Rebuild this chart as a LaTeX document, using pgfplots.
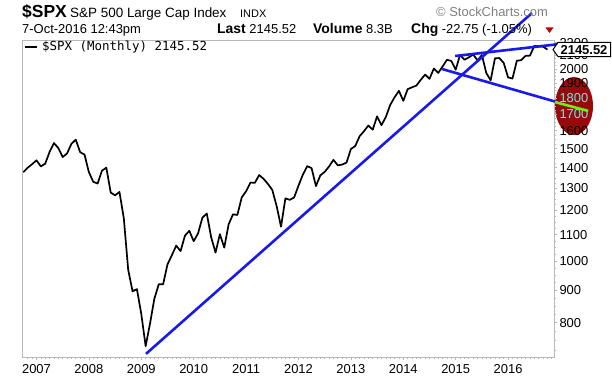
\documentclass[border=0pt]{standalone}
\usepackage{fontspec}
\setmainfont{Liberation Sans}
\newfontfamily\legfont{DejaVu Sans Mono}
\usepackage{pgfplots}
\usepackage{pgfplotstable}
\pgfplotsset{compat=1.18}
\usetikzlibrary{shapes.geometric}
\definecolor{trend}{RGB}{25,25,235}
\definecolor{elred}{RGB}{150,10,10}
\definecolor{lblcyan}{RGB}{120,228,228}
\definecolor{limeg}{RGB}{110,240,20}
\definecolor{framegray}{RGB}{185,185,185}

\pgfplotstableread{
t v
2006.75 1377.94
2006.8333 1400.63
2006.9167 1418.30
2007.0 1438.24
2007.0833 1406.82
2007.1667 1420.86
2007.25 1482.37
2007.3333 1530.62
2007.4167 1503.35
2007.5 1455.27
2007.5833 1473.99
2007.6667 1526.75
2007.75 1549.38
2007.8333 1481.14
2007.9167 1468.36
2008.0 1378.55
2008.0833 1330.63
2008.1667 1322.70
2008.25 1385.59
2008.3333 1400.38
2008.4167 1280.00
2008.5 1267.38
2008.5833 1282.83
2008.6667 1166.36
2008.75 968.75
2008.8333 896.24
2008.9167 903.25
2009.0 825.88
2009.0833 735.09
2009.1667 797.87
2009.25 872.81
2009.3333 919.14
2009.4167 919.32
2009.5 987.48
2009.5833 1020.62
2009.6667 1057.08
2009.75 1036.19
2009.8333 1095.63
2009.9167 1115.10
2010.0 1073.87
2010.0833 1104.49
2010.1667 1169.43
2010.25 1186.69
2010.3333 1089.41
2010.4167 1030.71
2010.5 1101.60
2010.5833 1049.33
2010.6667 1141.20
2010.75 1183.26
2010.8333 1180.55
2010.9167 1257.64
2011.0 1286.12
2011.0833 1327.22
2011.1667 1325.83
2011.25 1363.61
2011.3333 1345.20
2011.4167 1320.64
2011.5 1292.28
2011.5833 1218.89
2011.6667 1131.42
2011.75 1253.30
2011.8333 1246.96
2011.9167 1257.60
2012.0 1312.41
2012.0833 1365.68
2012.1667 1408.47
2012.25 1397.91
2012.3333 1310.33
2012.4167 1362.16
2012.5 1379.32
2012.5833 1406.58
2012.6667 1440.67
2012.75 1412.16
2012.8333 1416.18
2012.9167 1426.19
2013.0 1498.11
2013.0833 1514.68
2013.1667 1569.19
2013.25 1597.57
2013.3333 1630.74
2013.4167 1606.28
2013.5 1685.73
2013.5833 1632.97
2013.6667 1681.55
2013.75 1756.54
2013.8333 1805.81
2013.9167 1848.36
2014.0 1782.59
2014.0833 1859.45
2014.1667 1872.34
2014.25 1883.95
2014.3333 1923.57
2014.4167 1960.23
2014.5 1930.67
2014.5833 2003.37
2014.6667 1972.29
2014.75 2018.05
2014.8333 2067.56
2014.9167 2058.90
2015.0 1994.99
2015.0833 2104.50
2015.1667 2067.89
2015.25 2085.51
2015.3333 2107.39
2015.4167 2063.11
2015.5 2103.84
2015.5833 1972.18
2015.6667 1920.03
2015.75 2079.36
2015.8333 2080.41
2015.9167 2043.94
2016.0 1940.24
2016.0833 1932.23
2016.1667 2059.74
2016.25 2065.30
2016.3333 2096.95
2016.4167 2098.86
2016.5 2173.60
2016.5833 2170.95
2016.6667 2168.27
2016.75 2145.52
}\spx

\begin{document}
\begin{tikzpicture}
\path[use as bounding box] (0,0) rectangle (612bp,378bp);
% red ellipse behind the right axis labels
\node[ellipse, fill=elred, minimum width=38bp, minimum height=58bp, inner sep=0] at (574bp,272bp) {};
\begin{axis}[
  at={(22.7bp,21bp)}, anchor=south west,
  scale only axis, width=531.3bp, height=317bp,
  ymode=log,
  xmin=2006.737, xmax=2016.876, ymin=707, ymax=2221,
  clip=false,
  axis line style={framegray, line width=0.8bp},
  xtick={2007,2008,2009,2010,2011,2012,2013,2014,2015,2016},
  xticklabels={2007,2008,2009,2010,2011,2012,2013,2014,2015,2016},
  ytick={800,900,1000,1100,1200,1300,1400,1500,1600,1700,1800,1900,2000,2100,2200},
  yticklabels={800,900,1000,1100,1200,1300,1400,1500,1600,\textcolor{lblcyan}{1700},\textcolor{lblcyan}{1800},1900,2000,2100,2200},
  minor xtick={2006.8333,2006.9167,2007.0833,2007.1667,2007.25,2007.3333,2007.4167,2007.5,2007.5833,2007.6667,2007.75,2007.8333,2007.9167,2008.0833,2008.1667,2008.25,2008.3333,2008.4167,2008.5,2008.5833,2008.6667,2008.75,2008.8333,2008.9167,2009.0833,2009.1667,2009.25,2009.3333,2009.4167,2009.5,2009.5833,2009.6667,2009.75,2009.8333,2009.9167,2010.0833,2010.1667,2010.25,2010.3333,2010.4167,2010.5,2010.5833,2010.6667,2010.75,2010.8333,2010.9167,2011.0833,2011.1667,2011.25,2011.3333,2011.4167,2011.5,2011.5833,2011.6667,2011.75,2011.8333,2011.9167,2012.0833,2012.1667,2012.25,2012.3333,2012.4167,2012.5,2012.5833,2012.6667,2012.75,2012.8333,2012.9167,2013.0833,2013.1667,2013.25,2013.3333,2013.4167,2013.5,2013.5833,2013.6667,2013.75,2013.8333,2013.9167,2014.0833,2014.1667,2014.25,2014.3333,2014.4167,2014.5,2014.5833,2014.6667,2014.75,2014.8333,2014.9167,2015.0833,2015.1667,2015.25,2015.3333,2015.4167,2015.5,2015.5833,2015.6667,2015.75,2015.8333,2015.9167,2016.0833,2016.1667,2016.25,2016.3333,2016.4167,2016.5,2016.5833,2016.6667,2016.75,2016.8333},
  minor ytick={725,750,775,825,850,875,925,950,975,1025,1050,1075,1125,1150,1175,1225,1250,1275,1325,1350,1375,1425,1450,1475,1525,1550,1575,1625,1650,1675,1725,1750,1775,1825,1850,1875,1925,1950,1975,2025,2050,2075,2125,2150,2175},
  xtick pos=left, ytick pos=right, yticklabel pos=right,
  tick align=outside,
  major tick length=3bp, minor tick length=1.8bp,
  tick style={framegray, line width=0.6bp},
  xticklabel style={font=\fontsize{13}{13}\selectfont, yshift=-1bp},
  yticklabel style={font=\fontsize{13}{13}\selectfont, anchor=west, xshift=-1bp},
]
\addplot[black, line width=1.7bp, line join=round] table[x=t, y=v] {\spx};
% trend lines
\addplot[trend, line width=2.6bp] coordinates {(2009.09,715) (2016.456,2448)};
\addplot[trend, line width=2.6bp] coordinates {(2014.99,2096) (2016.99,2189)};
\addplot[trend, line width=2.6bp] coordinates {(2014.74,2000) (2016.93,1775)};
\addplot[limeg, line width=2.6bp] coordinates {(2016.895,1775) (2017.528,1719)};
\end{axis}
% value box on the right axis
\draw[fill=white, line width=1bp] (553bp,328.4bp) -- (558bp,335.6bp) -- (610.5bp,335.6bp) -- (610.5bp,321.4bp) -- (558bp,321.4bp) -- cycle;
\node[inner sep=0] at (584bp,328.3bp) {\fontsize{13}{13}\selectfont\bfseries 2145.52};
% legend
\draw[black, line width=2.5bp] (25bp,331bp) -- (37bp,331bp);
\node[anchor=base west, inner sep=0] at (42bp,327bp) {\legfont\fontsize{12.5}{12.5}\selectfont \$SPX (Monthly) 2145.52};
% header
\node[anchor=base west, inner sep=0] at (22bp,360bp) {\fontsize{17.5}{17.5}\selectfont\bfseries \$SPX};
\node[anchor=base west, inner sep=0] at (70bp,360bp) {\fontsize{13.5}{13.5}\selectfont S\&P 500 Large Cap Index};
\node[anchor=base west, inner sep=0] at (240bp,360bp) {\fontsize{11}{11}\selectfont INDX};
\node[anchor=base west, inner sep=0] at (436bp,361bp) {\color{gray}\fontsize{13}{13}\selectfont \char"00A9\ StockCharts.com};
\node[anchor=base west, inner sep=0] at (22bp,344bp) {\fontsize{13}{13}\selectfont 7-Oct-2016 12:43pm};
\node[anchor=base west, inner sep=0] at (217bp,344bp) {\fontsize{13}{13}\selectfont\textbf{\fontsize{14}{14}\selectfont Last} 2145.52};
\node[anchor=base west, inner sep=0] at (313bp,344bp) {\fontsize{13}{13}\selectfont\textbf{\fontsize{14}{14}\selectfont Volume} 8.3B};
\node[anchor=base west, inner sep=0] at (411bp,344bp) {\fontsize{13}{13}\selectfont\textbf{\fontsize{14}{14}\selectfont Chg} -22.75 (-1.05\%)};
\fill[red!75!black] (545.5bp,350.5bp) -- (553.5bp,350.5bp) -- (549.5bp,345bp) -- cycle;
\end{tikzpicture}
\end{document}
